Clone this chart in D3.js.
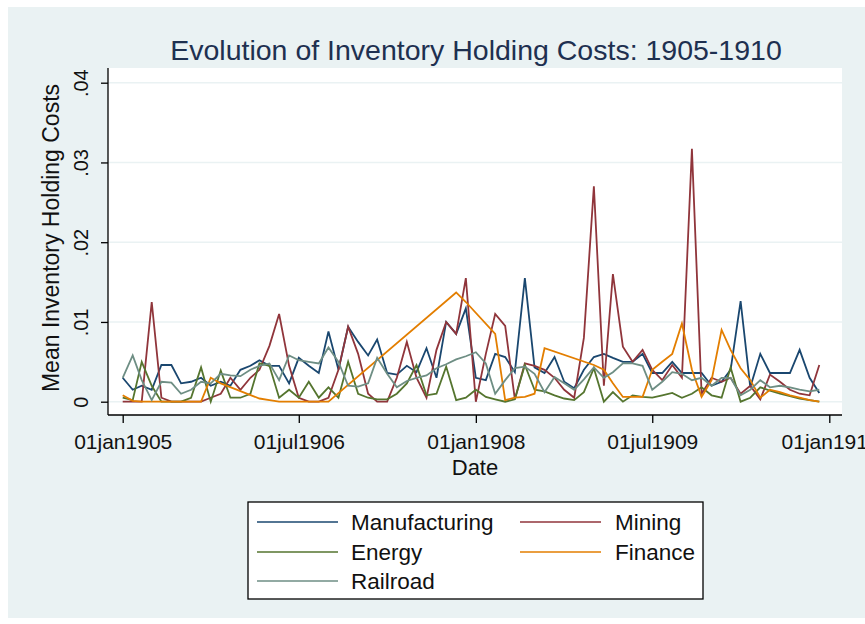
<!DOCTYPE html>
<html>
<head>
<meta charset="utf-8">
<script src="https://cdn.jsdelivr.net/npm/d3@7"></script>
<style>
  html, body { margin: 0; padding: 0; background: #ffffff; }
  svg { display: block; }
  text { font-family: "Liberation Sans", Arial, sans-serif; }
</style>
</head>
<body>
<svg id="chart" width="865" height="624"></svg>
<script>
// ---------- DATA ----------
const months = [
  "1905-01","1905-02","1905-03","1905-04","1905-05","1905-06","1905-07","1905-08","1905-09","1905-10","1905-11","1905-12",
  "1906-01","1906-02","1906-03","1906-04","1906-05","1906-06","1906-07","1906-08","1906-09","1906-10","1906-11","1906-12",
  "1907-01","1907-02","1907-03","1907-04","1907-05","1907-06","1907-07","1907-08","1907-09","1907-10","1907-11","1907-12",
  "1908-01","1908-02","1908-03","1908-04","1908-05","1908-06","1908-07","1908-08","1908-09","1908-10","1908-11","1908-12",
  "1909-01","1909-02","1909-03","1909-04","1909-05","1909-06","1909-07","1909-08","1909-09","1909-10","1909-11","1909-12",
  "1910-01","1910-02","1910-03","1910-04","1910-05","1910-06","1910-07","1910-08","1910-09","1910-10","1910-11","1910-12"
];

const manufacturing = [
  0.0030,0.0015,0.0020,0.0015,0.0046,0.0046,0.0023,0.0025,0.0030,0.0020,0.0025,0.0020,
  0.0040,0.0045,0.0052,0.0045,0.0045,0.0023,0.0055,0.0045,0.0036,0.0088,0.0040,0.0094,
  0.0075,0.0058,0.0078,0.0036,0.0034,0.0045,0.0037,0.0067,0.0030,0.0100,0.0085,0.0117,
  0.0030,0.0027,0.0060,0.0056,0.0037,0.0155,0.0043,0.0036,0.0056,0.0025,0.0017,0.0040,
  0.0056,0.0060,0.0055,0.0050,0.0050,0.0060,0.0036,0.0036,0.0050,0.0036,0.0036,0.0036,
  0.0020,0.0025,0.0040,0.0126,0.0018,0.0060,0.0036,0.0036,0.0036,0.0065,0.0030,0.0011
];

const mining = [
  0.0000,0.0000,0.0000,0.0125,0.0005,0.0000,0.0000,0.0000,0.0000,0.0005,0.0010,0.0030,
  0.0015,0.0030,0.0040,0.0070,0.0110,0.0045,0.0005,0.0000,0.0000,0.0005,0.0040,0.0094,
  0.0060,0.0010,0.0000,0.0000,0.0030,0.0075,0.0030,0.0005,0.0065,0.0100,0.0085,0.0155,
  0.0000,0.0060,0.0110,0.0095,0.0003,0.0048,0.0045,0.0040,0.0030,0.0015,0.0005,0.0080,
  0.0270,0.0020,0.0160,0.0069,0.0050,0.0065,0.0040,0.0027,0.0046,0.0030,0.0317,0.0010,
  0.0030,0.0025,0.0030,0.0010,0.0020,0.0003,0.0034,0.0025,0.0015,0.0010,0.0008,0.0046
];

const energy = [
  0.0005,0.0002,0.0050,0.0020,0.0000,0.0000,0.0000,0.0005,0.0043,0.0000,0.0039,0.0005,
  0.0005,0.0010,0.0048,0.0045,0.0005,0.0015,0.0005,0.0025,0.0005,0.0018,0.0005,0.0050,
  0.0010,0.0005,0.0003,0.0003,0.0010,0.0023,0.0046,0.0008,0.0010,0.0044,0.0002,0.0005,
  0.0015,0.0006,0.0003,0.0000,0.0003,0.0046,0.0015,0.0013,0.0008,0.0004,0.0002,0.0012,
  0.0042,0.0000,0.0012,0.0000,0.0008,0.0006,0.0005,0.0008,0.0011,0.0005,0.0010,0.0018,
  0.0008,0.0005,0.0043,0.0000,0.0005,0.0018,0.0014,0.0010,0.0007,0.0004,0.0002,0.0000
];

const finance = [
  0.0008,0.0001,0.0000,0.0000,0.0000,0.0000,0.0000,0.0000,0.0000,0.0030,0.0023,null,
  null,null,0.0004,0.0002,0.0000,0.0000,0.0000,0.0000,0.0000,0.0000,null,null,
  null,null,null,null,null,null,null,null,null,null,0.0137,0.0125,
  null,null,0.0085,0.0002,0.0005,0.0006,0.0010,0.0067,null,null,null,null,
  0.0046,0.0040,0.0023,0.0006,0.0006,0.0006,0.0040,0.0050,0.0060,0.0098,0.0040,0.0006,
  0.0027,0.0090,0.0065,0.0042,0.0027,0.0005,0.0015,0.0012,0.0008,0.0005,0.0002,0.0000
];

const railroad = [
  0.0030,0.0058,0.0027,0.0002,0.0025,0.0024,0.0010,0.0015,0.0025,0.0023,0.0035,0.0033,
  0.0032,0.0040,0.0045,0.0048,0.0027,0.0058,0.0052,0.0050,0.0048,0.0068,0.0050,0.0020,
  0.0019,0.0023,0.0055,0.0035,0.0018,0.0026,0.0030,0.0033,0.0042,0.0047,0.0053,0.0057,
  0.0062,0.0048,0.0010,0.0027,0.0042,0.0044,0.0035,0.0012,0.0031,0.0023,0.0015,0.0028,
  0.0043,0.0030,0.0037,0.0048,0.0048,0.0045,0.0015,0.0025,0.0037,0.0035,0.0027,0.0030,
  0.0020,0.0030,0.0030,0.0008,0.0015,0.0027,0.0018,0.0020,0.0018,0.0015,0.0013,0.0015
];

const seriesNames = ["Manufacturing","Mining","Energy","Finance","Railroad"];
const seriesColors = ["#1a476f","#90353b","#55752f","#e37e00","#6e8e84"];

const yTicks = [0, 0.01, 0.02, 0.03, 0.04];
const yTickLabels = ["0", ".01", ".02", ".03", ".04"];
const xTicks = ["1905-01-01","1906-07-01","1908-01-01","1909-07-01","1911-01-01"];
const xTickLabels = ["01jan1905","01jul1906","01jan1908","01jul1909","01jan1911"];

const titleText = "Evolution of Inventory Holding Costs: 1905-1910";
const yTitle = "Mean Inventory Holding Costs";
const xTitle = "Date";

// ---------- DRAW ----------
const svg = d3.select("#chart");
const parseMonth = d3.timeParse("%Y-%m");
const parseDay = d3.timeParse("%Y-%m-%d");

const plotL = 108, plotR = 842, plotT = 68, plotB = 415;

svg.append("rect").attr("x", 8).attr("y", 7).attr("width", 857).attr("height", 611)
  .attr("fill", "#eaf2f3");
svg.append("rect").attr("x", plotL).attr("y", plotT).attr("width", plotR - plotL).attr("height", plotB - plotT)
  .attr("fill", "#ffffff");

const x = d3.scaleTime()
  .domain([parseDay("1905-01-01"), parseDay("1911-01-01")])
  .range([122.7, 829.3]);
const y = d3.scaleLinear().domain([0, 0.04]).range([401.7, 82.7]);

// gridlines
svg.append("g").selectAll("line").data(yTicks).join("line")
  .attr("x1", plotL).attr("x2", plotR)
  .attr("y1", d => y(d)).attr("y2", d => y(d))
  .attr("stroke", "#eaf2f3").attr("stroke-width", 1.5);

// series
const allSeries = [manufacturing, mining, energy, finance, railroad];
const line = d3.line().x(d => x(d.date)).y(d => y(d.v));
allSeries.forEach((vals, si) => {
  const pts = months.map((m, i) => ({ date: parseMonth(m), v: vals[i] }))
    .filter(d => d.v !== null);
  svg.append("path").datum(pts)
    .attr("d", line)
    .attr("fill", "none")
    .attr("stroke", seriesColors[si])
    .attr("stroke-width", 1.8)
    .attr("stroke-linejoin", "miter");
});

// axes lines
svg.append("line").attr("x1", plotL).attr("x2", plotL).attr("y1", plotT).attr("y2", plotB)
  .attr("stroke", "#000").attr("stroke-width", 1.3);
svg.append("line").attr("x1", plotL).attr("x2", plotR).attr("y1", plotB).attr("y2", plotB)
  .attr("stroke", "#000").attr("stroke-width", 1.3);

// y axis
const yAxis = d3.axisLeft(y).tickValues(yTicks).tickFormat((d, i) => yTickLabels[i]).tickSize(7);
const gy = svg.append("g").attr("transform", `translate(${plotL},0)`).call(yAxis);
gy.select(".domain").remove();
gy.selectAll(".tick line").attr("stroke", "#000").attr("stroke-width", 1.3);
gy.selectAll(".tick text")
  .attr("x", 0).attr("y", -20).attr("dy", null)
  .attr("transform", "rotate(-90)")
  .attr("text-anchor", "middle")
  .attr("fill", "#111")
  .style("font-size", "20px")
  .style("font-family", "'Liberation Sans', Arial, sans-serif");

// x axis
const xAxis = d3.axisBottom(x).tickValues(xTicks.map(parseDay))
  .tickFormat((d, i) => xTickLabels[i]).tickSize(8);
const gx = svg.append("g").attr("transform", `translate(0,${plotB})`).call(xAxis);
gx.select(".domain").remove();
gx.selectAll(".tick line").attr("stroke", "#000").attr("stroke-width", 1.3);
gx.selectAll(".tick text")
  .attr("y", 34).attr("dy", null)
  .attr("fill", "#111")
  .style("font-size", "21px")
  .style("font-family", "'Liberation Sans', Arial, sans-serif");

// titles
svg.append("text").attr("x", 476).attr("y", 60).attr("text-anchor", "middle")
  .attr("fill", "#1e3050").style("font-size", "28.5px").text(titleText);
svg.append("text").attr("transform", "translate(59,238) rotate(-90)").attr("text-anchor", "middle")
  .attr("fill", "#111").style("font-size", "23px").text(yTitle);
svg.append("text").attr("x", 475).attr("y", 475).attr("text-anchor", "middle")
  .attr("fill", "#111").style("font-size", "22px").text(xTitle);

// legend
svg.append("rect").attr("x", 248).attr("y", 502).attr("width", 455).attr("height", 97)
  .attr("fill", "#fff").attr("stroke", "#000").attr("stroke-width", 1.3);
const legendPos = [
  { lx: 257, tx: 351, y: 522 }, { lx: 520, tx: 615, y: 522 },
  { lx: 257, tx: 351, y: 552 }, { lx: 520, tx: 615, y: 552 },
  { lx: 257, tx: 351, y: 581 }
];
seriesNames.forEach((name, i) => {
  const p = legendPos[i];
  svg.append("line").attr("x1", p.lx).attr("x2", p.lx + 81).attr("y1", p.y).attr("y2", p.y)
    .attr("stroke", seriesColors[i]).attr("stroke-width", 1.7);
  svg.append("text").attr("x", p.tx).attr("y", p.y + 8).attr("fill", "#111")
    .style("font-size", "22.5px").text(name);
});
</script>
</body>
</html>
